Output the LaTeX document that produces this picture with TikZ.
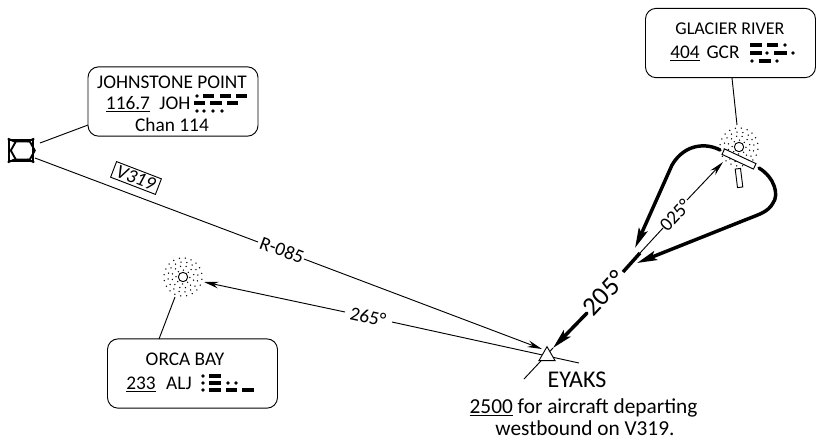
\documentclass[tikz,border=0pt]{standalone}
\usepackage{fontspec}
\setmainfont{Carlito}
\usetikzlibrary{arrows.meta, shapes.geometric}
\newcommand{\mdash}[3]{\draw[morsebar] (#1, #3) -- (#2, #3);}
\newcommand{\mdot}[2]{\fill (#1, #2) circle (1.8);}
\newcommand{\ndbdots}[1]{
  \foreach \r/\n in {7/8, 11/12, 15/16, 19/20} {
    \foreach \k in {1,...,\n} {
      \fill (#1) ++({\k*360/\n + \r*7}:\r) circle (0.75);
    }
  }
}

\begin{document}
\begin{tikzpicture}[
    x=0.75pt, y=-0.75pt, line width=0.7pt, font=\fontsize{14.5}{16}\selectfont,
    fixbox/.style={draw, rounded corners=8pt, minimum width=127.5pt, minimum height=52pt, inner sep=0},
    ndbmark/.style={circle, draw, minimum size=7pt, inner sep=0},
    chartlabel/.style={inner sep=0, anchor=base},
    tilted/.style={inner sep=0, anchor=center},
    morsebar/.style={line width=2.3pt},
    course/.style={-{Stealth[length=11pt, width=5pt]}},
    holding/.style={line width=2.6pt, line cap=round, -{Stealth[length=15pt, width=7pt, inset=3pt]}},
  ]
  \useasboundingbox (0, 0) rectangle (816, 440);

  % facilities
  \node[fixbox] (johbox) at (173, 101.5) {};
  \node[fixbox] (gcrbox) at (730.5, 43) {};
  \node[fixbox] (orcabox) at (192.5, 373.5) {};
  \node[draw, line width=1.8pt, minimum width=18pt, minimum height=16pt, inner sep=0] (vor) at (21, 150.5) {};
  \draw[line width=1.4pt] (vor.west) ++(3, 0) -- ++(5, -9) -- ++(14, 0) -- ++(5, 9) -- ++(-5, 9) -- ++(-14, 0) -- cycle;
  \draw[line width=1.4pt] (vor.north west) -- ++(7, 3) (vor.north east) -- ++(-7, 3) (vor.south west) -- ++(7, -3) (vor.south east) -- ++(-7, -3);

  \coordinate (gcrndb) at (739, 147);
  \coordinate (orcandb) at (183, 277);
  \ndbdots{gcrndb}
  \ndbdots{orcandb}
  \node[ndbmark, fill=white] (gcrmark) at (gcrndb) {};
  \node[ndbmark, fill=white] (orcamark) at (orcandb) {};
  \node[draw, fill=white, rotate=-25, minimum width=26pt, minimum height=4.5pt, inner sep=0] (rwya) at (739, 159) {};
  \node[draw, fill=white, rotate=-83, minimum width=14pt, minimum height=4pt, inner sep=0] (rwyb) at (739, 178) {};

  % leaders
  \coordinate (johleg) at (88, 125);
  \coordinate (vorleg) at (40, 143);
  \coordinate (gcrleg) at (732, 78);
  \coordinate (gcrtop) at (737, 125);
  \coordinate (orcaleg) at (159, 339);
  \coordinate (orcatop) at (175, 297);
  \draw (johleg) -- (vorleg);
  \draw (gcrleg) -- (gcrtop);
  \draw (orcaleg) -- (orcatop);

  % radial to the fix
  \coordinate (radstart) at (35, 158);
  \coordinate (radgapa) at (258, 242);
  \coordinate (radgapb) at (304, 259);
  \coordinate (radend) at (542, 349);
  \draw (radstart) -- (radgapa);
  \draw[course] (radgapb) -- (radend);
  \node[tilted, rotate=-20.6] (radlabel) at (282, 250) {R-085};
  \node[draw, rotate=-21, inner sep=1.5pt, minimum width=36pt, minimum height=12pt] (airway) at (136, 178) {\textit{V319}};

  % outbound to orca bay
  \coordinate (orcatip) at (204, 282);
  \coordinate (orcagapa) at (345, 312);
  \coordinate (orcagapb) at (392, 322);
  \coordinate (orcatail) at (579, 363);
  \draw[course] (orcagapa) -- (orcatip);
  \draw (orcagapb) -- (orcatail);
  \node[tilted, rotate=-12.2] (orcalabel) at (368, 317) {265°};

  % inbound course
  \coordinate (fixtail) at (524, 379);
  \coordinate (eyakstip) at (553, 348);
  \coordinate (hdggapa) at (587, 313);
  \coordinate (hdggapb) at (623, 272);
  \coordinate (hdgend) at (640, 253);
  \coordinate (outgap) at (663, 228);
  \coordinate (outresume) at (687, 200);
  \coordinate (outtip) at (723, 162);
  \draw (fixtail) -- (eyakstip);
  \draw[holding] (hdggapa) -- (eyakstip);
  \draw[line width=2.6pt] (hdggapb) -- (hdgend);
  \draw (hdgend) -- (outgap);
  \draw[course] (outresume) -- (outtip);
  \node[tilted, rotate=47, font=\fontsize{20}{22}\selectfont] (hdglabel) at (604, 293) {205°};
  \node[tilted, rotate=47] (outlabel) at (675, 215) {025°};

  % holding pattern
  \coordinate (holdstart) at (720, 150);
  \coordinate (holdtip) at (635, 248);
  \coordinate (turnstart) at (759, 168);
  \coordinate (turntip) at (637, 263);
  \draw[holding] (holdstart) .. controls (707, 143) and (685, 143) .. (672, 165) -- (holdtip);
  \draw[holding] (turnstart) .. controls (775, 178) and (779, 195) .. (773, 203) .. controls (768, 212) and (760, 214) .. (745, 220) -- (turntip);

  \node[regular polygon, regular polygon sides=3, draw, fill=white, minimum size=14pt, inner sep=0] (eyaks) at (547, 356) {};

  % texts
  \node[chartlabel] (johname) at (172, 88) {JOHNSTONE POINT};
  \node[chartlabel] (johfreq) at (128, 109) {\underline{116.7}};
  \node[chartlabel] (johid) at (175, 109) {JOH};
  \node[chartlabel] (johchan) at (172, 131) {Chan 114};
  \node[chartlabel, font=\fontsize{13.5}{15}\selectfont] (gcrname) at (730, 34) {GLACIER RIVER};
  \node[chartlabel] (gcrfreq) at (685, 58) {\underline{404}};
  \node[chartlabel] (gcrid) at (723, 58) {GCR};
  \node[chartlabel] (orcaname) at (185, 365) {ORCA BAY};
  \node[chartlabel] (orcafreq) at (141, 389) {\underline{233}};
  \node[chartlabel] (orcaid) at (179, 389) {ALJ};
  \node[chartlabel, font=\fontsize{18}{20}\selectfont] (eyaksname) at (577, 387) {EYAKS};
  \node[chartlabel, font=\fontsize{16}{18}\selectfont] (eyaksalt) at (583.5, 413) {\underline{2500} for aircraft departing};
  \node[chartlabel, font=\fontsize{16}{18}\selectfont] (eyaksnote) at (585, 435) {westbound on V319.};

  % morse idents
  \mdot{197}{96} \mdash{203}{214}{96} \mdash{220}{231}{96} \mdash{236}{247}{96}
  \mdash{194}{205}{103} \mdash{210}{222}{103} \mdash{227}{238}{103}
  \mdot{197}{111} \mdot{204}{111} \mdot{213}{111} \mdot{222}{111}

  \mdash{750}{762}{45} \mdash{767}{778}{45} \mdot{785}{45}
  \mdash{750}{762}{53} \mdot{767}{53} \mdash{774}{787}{53} \mdot{793}{53}
  \mdot{752}{61} \mdash{759}{771}{61} \mdot{777}{61}

  \mdot{203}{376} \mdash{209}{221}{376}
  \mdot{203}{383} \mdash{209}{221}{383} \mdot{228}{383} \mdot{236}{383}
  \mdot{203}{390} \mdash{209}{221}{390} \mdash{226}{237}{390} \mdash{242}{254}{390}

\end{tikzpicture}
\end{document}
